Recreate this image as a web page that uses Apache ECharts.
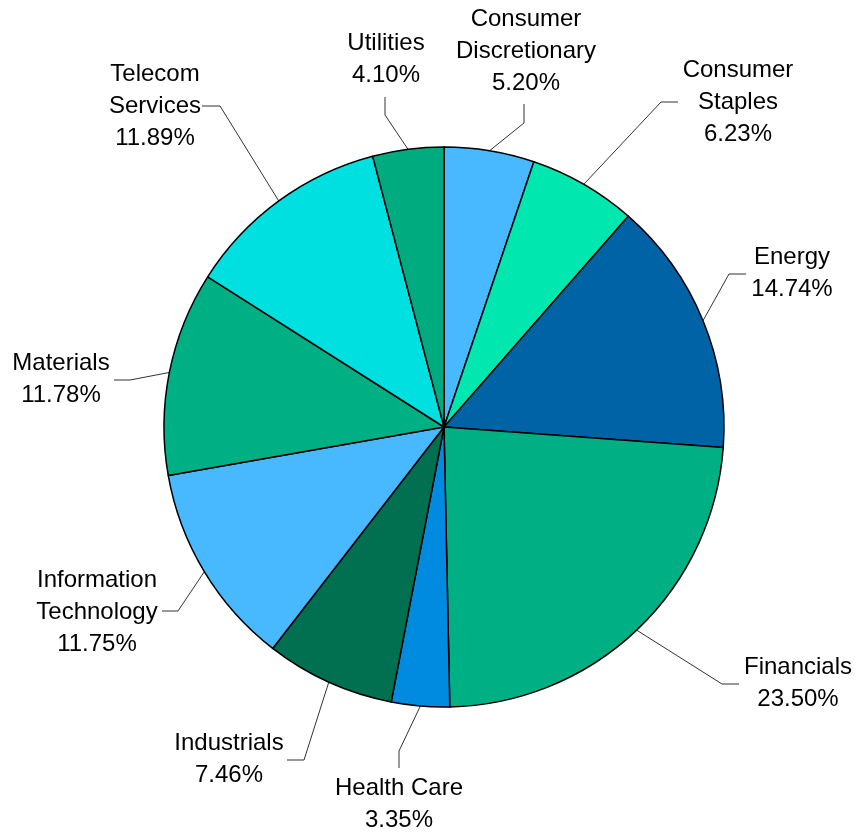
<!DOCTYPE html>
<html>
<head>
<meta charset="utf-8">
<script src="https://cdn.jsdelivr.net/npm/echarts@6/dist/echarts.min.js"></script>
<style>
html,body{margin:0;padding:0;background:#fff;}
#chart{width:859px;height:832px;}
</style>
</head>
<body>
<div id="chart"></div>
<script>
// Data
const categories = ['Consumer Discretionary','Consumer Staples','Energy','Financials','Health Care','Industrials','Information Technology','Materials','Telecom Services','Utilities'];
const labelNames = ['Consumer\nDiscretionary','Consumer\nStaples','Energy','Financials','Health Care','Industrials','Information\nTechnology','Materials','Telecom\nServices','Utilities'];
const shares = [5.20, 6.23, 14.74, 23.50, 3.35, 7.46, 11.75, 11.78, 11.89, 4.10];

// Styles
const colors = ['#48b8ff','#00e8b0','#0063a6','#00b085','#008ae0','#007050','#48b8ff','#00b085','#00e0e0','#00ab80'];
const CENTER = [444, 427];
const RADIUS = 280;

// Label layout: text block centre, elbow and end of the leader line
const labelLayout = [
  {text:[526, 51],  elbow:[524, 123], end:[524, 104]},
  {text:[738, 102], elbow:[661, 102], end:[678, 102]},
  {text:[792, 273], elbow:[729, 274], end:[746, 274]},
  {text:[798, 683], elbow:[722, 684], end:[739, 684]},
  {text:[399, 804], elbow:[399, 751], end:[399, 768]},
  {text:[229, 759], elbow:[304, 760], end:[287, 760]},
  {text:[97, 612],  elbow:[178, 611], end:[162, 611]},
  {text:[61, 379],  elbow:[130, 380], end:[114, 380]},
  {text:[155, 106], elbow:[220, 106], end:[202, 106]},
  {text:[386, 59],  elbow:[385, 115], end:[385, 97]}
];

function edgePoint(i){
  const total = shares.reduce((a,b)=>a+b,0);
  let cum = 0;
  for (let k=0;k<i;k++) cum += shares[k];
  const mid = (cum + shares[i]/2) / total * Math.PI * 2;
  return [CENTER[0] + RADIUS*Math.sin(mid), CENTER[1] - RADIUS*Math.cos(mid)];
}

const chart = echarts.init(document.getElementById('chart'), null, {renderer:'canvas'});
chart.setOption({
  animation:false,
  backgroundColor:'#ffffff',
  series:[{
    type:'pie',
    center:CENTER,
    radius:RADIUS,
    startAngle:90,
    clockwise:true,
    avoidLabelOverlap:false,
    data:categories.map((c,i)=>({name:c, value:shares[i], itemStyle:{color:colors[i]}})),
    itemStyle:{borderColor:'#000', borderWidth:1.5},
    emphasis:{disabled:true},
    label:{
      show:true,
      position:'outside',
      formatter:(p)=> labelNames[p.dataIndex] + '\n' + shares[p.dataIndex].toFixed(2) + '%',
      fontFamily:'"Liberation Sans", Arial, sans-serif',
      fontSize:24,
      lineHeight:32,
      color:'#000',
      align:'center'
    },
    labelLine:{show:true, length:20, length2:20, smooth:false, lineStyle:{color:'#333', width:1}},
    labelLayout:(params)=>{
      const L = labelLayout[params.dataIndex];
      const p0 = (params.labelLinePoints && params.labelLinePoints[0]) || edgePoint(params.dataIndex);
      return {
        x:L.text[0], y:L.text[1],
        align:'center', verticalAlign:'middle',
        hideOverlap:false,
        labelLinePoints:[p0, L.elbow, L.end]
      };
    }
  }]
});
</script>
</body>
</html>
